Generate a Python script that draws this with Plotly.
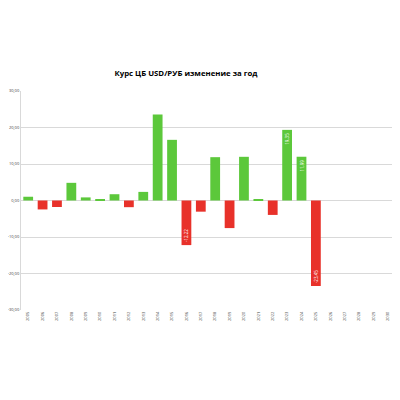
import plotly.graph_objects as go

# USD/RUB central bank rate, change over the year
years = [str(y) for y in range(2005, 2031)]
change = [1.03, -2.45, -1.78, 4.84, 0.85, 0.24, 1.72, -1.83, 2.36, 23.53,
          16.62, -12.22, -3.06, 11.87, -7.56, 11.97, 0.41, -3.95, 19.35, 11.99,
          -23.45, None, None, None, None, None]
bar_labels = ['', '', '', '', '', '', '', '', '', '',
              '', '-12,22', '', '', '', '', '', '', '19,35', '11,99',
              '-23,45', '', '', '', '', '']

GREEN = '#5cc83b'
RED = '#e8312a'
colors = [GREEN if (v is not None and v >= 0) else RED for v in change]

fig = go.Figure(data=[go.Bar(
    x=years,
    y=change,
    marker=dict(color=colors, line=dict(width=0)),
    text=bar_labels,
    textposition='inside',
    insidetextanchor='end',
    textangle=-90,
    textfont=dict(family='Open Sans', size=4.5, color='white'),
    cliponaxis=False,
)])

# page body has an 8px margin, so the figure is 392 wide/high and offset
fig.update_layout(
    width=392,
    height=392,
    paper_bgcolor='white',
    plot_bgcolor='white',
    separators=', ',
    showlegend=False,
    bargap=0.32,
    margin=dict(l=13, r=5, t=83, b=90),
    title=dict(text='<b>Курс ЦБ USD/РУБ изменение за год</b>',
               x=178 / 392, xanchor='center', y=1 - 65 / 392, yanchor='middle',
               font=dict(family='Open Sans', size=7.8, color='#000000')),
    uniformtext=dict(minsize=4, mode='show'),
)
fig.update_xaxes(
    type='category',
    automargin=False,
    tickangle=-90,
    tickfont=dict(family='Open Sans', size=4, color='#404040'),
    showgrid=False,
    showline=False,
    ticks='',
)
fig.update_yaxes(
    range=[-30, 30],
    dtick=10,
    automargin=False,
    tickformat='.2f',
    tickfont=dict(family='Open Sans', size=4, color='#404040'),
    showgrid=True,
    gridcolor='#d9d9d9',
    gridwidth=1,
    zeroline=True,
    zerolinecolor='#d9d9d9',
    zerolinewidth=1,
    showline=True,
    linecolor='#d9d9d9',
    ticks='',
)

fig.write_html("out.html")
